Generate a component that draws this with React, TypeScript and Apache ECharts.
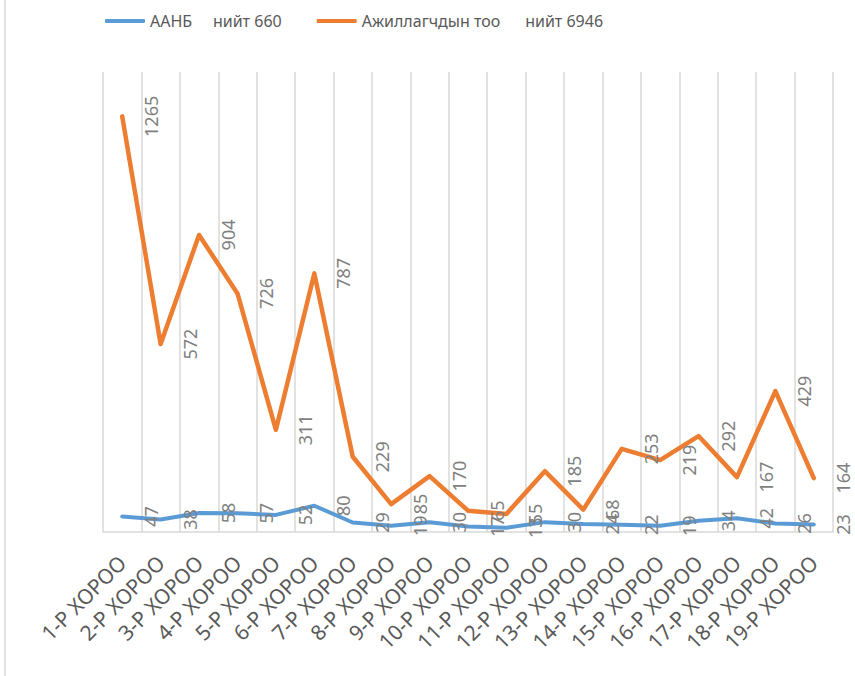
import React, { useEffect, useRef } from "react";
import * as echarts from "echarts";

const categories = [
  "1-Р ХОРОО", "2-Р ХОРОО", "3-Р ХОРОО", "4-Р ХОРОО", "5-Р ХОРОО",
  "6-Р ХОРОО", "7-Р ХОРОО", "8-Р ХОРОО", "9-Р ХОРОО", "10-Р ХОРОО",
  "11-Р ХОРОО", "12-Р ХОРОО", "13-Р ХОРОО", "14-Р ХОРОО", "15-Р ХОРОО",
  "16-Р ХОРОО", "17-Р ХОРОО", "18-Р ХОРОО", "19-Р ХОРОО",
];

const aanbValues = [47, 38, 58, 57, 52, 80, 29, 19, 30, 17, 13, 30, 24, 22, 19, 34, 42, 26, 23];
const workerValues = [1265, 572, 904, 726, 311, 787, 229, 85, 170, 65, 55, 185, 68, 253, 219, 292, 167, 429, 164];

const aanbName = "ААНБ     нийт 660";
const workerName = "Ажиллагчдын тоо      нийт 6946";

const BLUE = "#5B9BD5";
const ORANGE = "#ED7D31";
const GRID = "#d9d9d9";
const FONT = "'Noto Sans', 'DejaVu Sans', sans-serif";

function makeLabel() {
  return {
    show: true,
    position: "right" as const,
    distance: 28,
    rotate: 90,
    align: "center" as const,
    verticalAlign: "middle" as const,
    color: "#7f7f7f",
    fontSize: 18,
    lineHeight: 14,
    fontFamily: FONT,
  };
}

export default function App() {
  const ref = useRef<HTMLDivElement>(null);

  useEffect(() => {
    if (!ref.current) return;
    const chart = echarts.init(ref.current, undefined, { renderer: "svg" });
    chart.setOption({
      animation: false,
      backgroundColor: "#ffffff",
      graphic: [
        {
          type: "line",
          shape: { x1: 5, y1: 0, x2: 5, y2: 676 },
          style: { stroke: GRID, lineWidth: 1.5 },
        },
      ],
      legend: {
        left: 100,
        top: 6,
        itemWidth: 40,
        itemHeight: 4,
        itemGap: 35,
        icon: "roundRect",
        textStyle: {
          color: "#595959",
          fontSize: 16,
          lineHeight: 20,
          fontFamily: FONT,
        },
        data: [aanbName, workerName],
      },
      grid: { left: 103, right: 22, top: 72, bottom: 144, containLabel: false },
      xAxis: {
        type: "category",
        data: categories,
        boundaryGap: true,
        axisLine: { show: true, lineStyle: { color: GRID, width: 1.5 } },
        axisTick: { show: false },
        splitLine: { show: true, interval: 0, lineStyle: { color: GRID, width: 1.5 } },
        axisLabel: {
          interval: 0,
          rotate: 45,
          margin: 27,
          color: "#595959",
          fontSize: 21,
          fontFamily: FONT,
        },
      },
      yAxis: {
        type: "value",
        min: 0,
        max: 1400,
        interval: 200,
        axisLine: { show: false },
        axisTick: { show: false },
        axisLabel: { show: false },
        splitLine: { show: false },
      },
      series: [
        {
          name: aanbName,
          type: "line",
          data: aanbValues,
          symbol: "circle",
          symbolSize: 2,
          itemStyle: { color: BLUE },
          lineStyle: { color: BLUE, width: 4, cap: "round", join: "round" },
          label: makeLabel(),
        },
        {
          name: workerName,
          type: "line",
          data: workerValues,
          symbol: "circle",
          symbolSize: 2,
          itemStyle: { color: ORANGE },
          lineStyle: { color: ORANGE, width: 4.5, cap: "round", join: "round" },
          label: makeLabel(),
        },
      ],
    });
    return () => chart.dispose();
  }, []);

  return (
    <div
      ref={ref}
      style={{ position: "fixed", left: 0, top: 0, width: 855, height: 676 }}
    />
  );
}
